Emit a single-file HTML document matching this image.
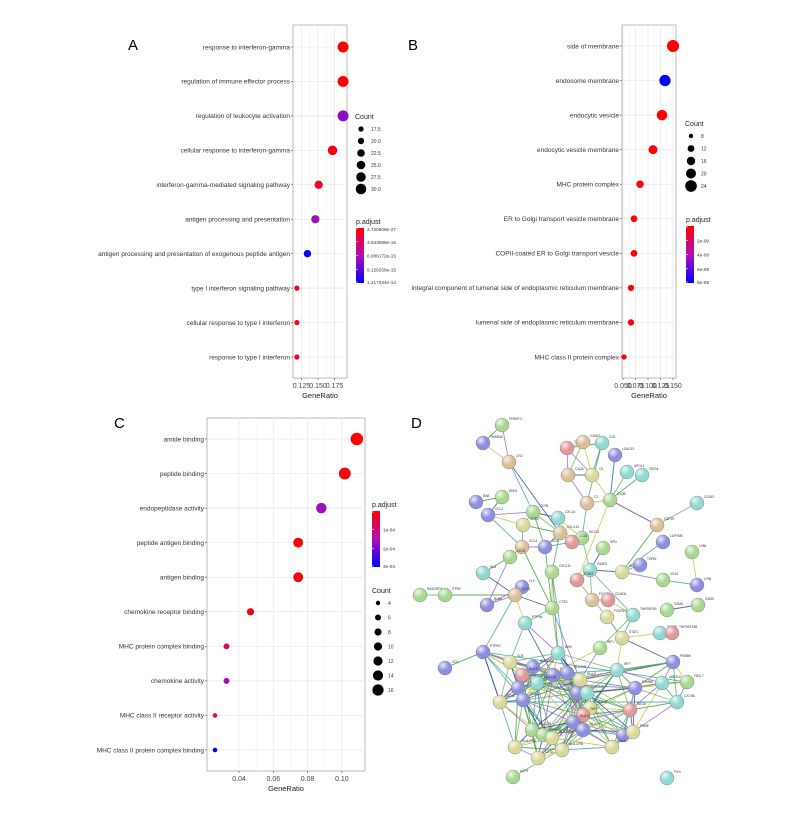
<!DOCTYPE html>
<html><head><meta charset="utf-8"><style>
body{margin:0;background:#fff;}
svg{display:block;font-family:"Liberation Sans",sans-serif;}
</style></head><body>
<svg id="fig" width="802" height="817" viewBox="0 0 802 817">
<defs>
<linearGradient id="gA" x1="0" y1="0" x2="0" y2="1"><stop offset="0" stop-color="#ff0000"/><stop offset="0.5" stop-color="#b010b8"/><stop offset="1" stop-color="#0000ff"/></linearGradient>
<radialGradient id="nodeShine" cx="0.35" cy="0.3" r="0.8"><stop offset="0" stop-color="#fff" stop-opacity="0.8"/><stop offset="0.5" stop-color="#fff" stop-opacity="0"/></radialGradient>
</defs>
<text x="128" y="50" font-size="15">A</text>
<text x="408" y="50" font-size="15">B</text>
<text x="114" y="428" font-size="15">C</text>
<text x="411" y="428" font-size="15">D</text>
<g id="pa"></g>
<g id="pb"></g>
<g id="pc"></g>
<g id="pd"></g>
</svg>
<script>
// ---- Panel A data ----
const aTerms=["response to interferon-gamma","regulation of immune effector process","regulation of leukocyte activation","cellular response to interferon-gamma","interferon-gamma-mediated signaling pathway","antigen processing and presentation","antigen processing and presentation of exogenous peptide antigen","type I interferon signaling pathway","cellular response to type I interferon","response to type I interferon"];
const aRatio=[0.188,0.188,0.188,0.172,0.151,0.146,0.134,0.118,0.118,0.118];
const aCount=[30,30,30,27,24,24,22,17,17,17];
const aPadj=[0.0,0.0,0.6,0.05,0.12,0.55,1.0,0.08,0.08,0.08]; // fraction of colorbar range
const aTicks=[0.125,0.150,0.175];
const aTickLabels=["0.125","0.150","0.175"];
const aCountLegend=["17.5","20.0","22.5","25.0","27.5","30.0"];
const aColorLegend=["2.720608e-27","3.043086e-15","6.086172e-15","9.129258e-15","1.217234e-14"];
// ---- Panel B data ----
const bTerms=["side of membrane","endosome membrane","endocytic vesicle","endocytic vesicle membrane","MHC protein complex","ER to Golgi transport vesicle membrane","COPII-coated ER to Golgi transport vesicle","integral component of lumenal side of endoplasmic reticulum membrane","lumenal side of endoplasmic reticulum membrane","MHC class II protein complex"];
const bRatio=[0.150,0.134,0.128,0.110,0.084,0.072,0.072,0.066,0.066,0.052];
const bCount=[24,22,20,16,12,10,10,9,9,6];
const bPadj=[0.0,1.0,0.02,0.02,0.02,0.02,0.02,0.02,0.02,0.02];
const bTicks=[0.050,0.075,0.100,0.125,0.150];
const bTickLabels=["0.050","0.075","0.100","0.125","0.150"];
const bCountLegend=["8","12","16","20","24"];
const bColorLegend=["","2e-09","4e-09","6e-09","8e-09"];
// ---- Panel C data ----
const cTerms=["amide binding","peptide binding","endopeptidase activity","peptide antigen binding","antigen binding","chemokine receptor binding","MHC protein complex binding","chemokine activity","MHC class II receptor activity","MHC class II protein complex binding"];
const cRatio=[0.1087,0.1017,0.088,0.0745,0.0745,0.0467,0.0327,0.0327,0.026,0.026];
const cCount=[16,15,13,12,12,8,6,6,4,4];
const cPadj=[0.0,0.02,0.55,0.02,0.02,0.05,0.25,0.55,0.12,1.0];
const cTicks=[0.04,0.06,0.08,0.10];
const cTickLabels=["0.04","0.06","0.08","0.10"];
const cCountLegend=["4","6","8","10","12","14","16"];
const cColorLegend=["","1e-04","2e-04","3e-04"];

const NS="http://www.w3.org/2000/svg";
function mk(parent,tag,attrs,txt){const e=document.createElementNS(NS,tag);for(const k in attrs)e.setAttribute(k,attrs[k]);if(txt!==undefined)e.textContent=txt;parent.appendChild(e);return e;}
function col(f){ // red -> purple -> blue
  let r,g,b;
  if(f<0.5){const t=f/0.5;r=255-t*(255-176);g=t*16;b=t*184;}else{const t=(f-0.5)/0.5;r=176-t*176;g=16-t*16;b=184+t*(255-184);}
  return `rgb(${Math.round(r)},${Math.round(g)},${Math.round(b)})`;
}
function dotplot(g,cfg){
  const {x0,x1,y0,y1,rowTop,rowBot,terms,ratio,count,padj,ticks,tickLabels,xAt,sx,rOf,fs}=cfg;
  const xs=v=>xAt+(v-cfg.vAt)*sx;
  const ys=i=>rowTop+i*(rowBot-rowTop)/(terms.length-1);
  const bg=mk(g,'rect',{x:x0,y:y0,width:x1-x0,height:y1-y0,fill:'#fff',stroke:'#aaa','stroke-width':0.8});
  
  for(let i=0;i<ticks.length-1;i++){const m=(ticks[i]+ticks[i+1])/2;mk(g,'line',{x1:xs(m),x2:xs(m),y1:y0,y2:y1,stroke:'#f2f2f2','stroke-width':0.6});}
  ticks.forEach((t,i)=>{
    const l=mk(g,'line',{x1:xs(t),x2:xs(t),y1:y0,y2:y1,stroke:'#e6e6e6','stroke-width':0.7});
    
    mk(g,'line',{x1:xs(t),x2:xs(t),y1:y1,y2:y1+2,stroke:'#444','stroke-width':0.6});
    const tl=mk(g,'text',{x:xs(t),y:y1+10,'font-size':fs+0.5,'text-anchor':'middle',fill:'#444'},tickLabels[i]);
    
  });
  const xt=mk(g,'text',{x:(x0+x1)/2,y:y1+20,'font-size':fs+1,'text-anchor':'middle',fill:'#222'},'GeneRatio');
  
  terms.forEach((t,i)=>{
    const y=ys(i);
    mk(g,'line',{x1:x0,x2:x1,y1:y,y2:y,stroke:'#e6e6e6','stroke-width':0.7});
    mk(g,'line',{x1:x0-2,x2:x0,y1:y,y2:y,stroke:'#444','stroke-width':0.6});
    const lb=mk(g,'text',{x:x0-3,y:y+fs*0.35,'font-size':fs,'text-anchor':'end',fill:'#333'},t);
    
  });
  terms.forEach((t,i)=>{
    const c=mk(g,'circle',{cx:xs(ratio[i]),cy:ys(i),r:rOf(count[i]),fill:col(padj[i])});
    
  });
}
function countLegend(g,x,y,labels,radii,gap,fs){
  const t=mk(g,'text',{x:x,y:y,'font-size':fs+1,fill:'#222'},'Count');
  
  labels.forEach((l,i)=>{
    const cy=y+10+i*gap;
    const c=mk(g,'circle',{cx:x+6,cy:cy,r:radii[i],fill:'#000'});
    
    const tt=mk(g,'text',{x:x+16,y:cy+2,'font-size':fs-1,fill:'#333'},l);
    
  });
}
function colorLegend(g,x,y,h,labels,fs){
  const t=mk(g,'text',{x:x,y:y,'font-size':fs+1,fill:'#222'},'p.adjust');
  
  const r=mk(g,'rect',{x:x,y:y+4,width:8,height:h,fill:'url(#gA)'});
  
  labels.forEach((l,i)=>{
    const yy=y+4+i*h/(labels.length-1)+(i==0?1:i==labels.length-1?-1:0);
    mk(g,'line',{x1:x,x2:x+2,y1:yy,y2:yy,stroke:'#fff','stroke-width':0.6});
    if(l){const tt=mk(g,'text',{x:x+11,y:yy+2,'font-size':fs-1.3,fill:'#333'},l);
    }
  });
}
const A=document.getElementById('pa'),B=document.getElementById('pb'),C=document.getElementById('pc');
dotplot(A,{x0:293,x1:347,y0:25,y1:378,rowTop:47,rowBot:357,terms:aTerms,ratio:aRatio,count:aCount,padj:aPadj,ticks:aTicks,tickLabels:aTickLabels,xAt:301.5,vAt:0.125,sx:660,rOf:c=>2.6+(c-17)*0.22,fs:6.5});
countLegend(A,355,119,aCountLegend,[2.6,3.2,3.8,4.3,4.8,5.3],12,6);
colorLegend(A,356,224,55,aColorLegend,6);
dotplot(B,{x0:622,x1:676,y0:25,y1:378,rowTop:46,rowBot:357,terms:bTerms,ratio:bRatio,count:bCount,padj:bPadj,ticks:bTicks,tickLabels:bTickLabels,xAt:623,vAt:0.05,sx:500,rOf:c=>2.6+(c-6)*0.19,fs:6.5});
countLegend(B,685,126,bCountLegend,[2.2,3.4,4.2,5,5.8],12.5,6);
colorLegend(B,686,222,57,bColorLegend,6);
dotplot(C,{x0:207,x1:365,y0:418,y1:771,rowTop:439,rowBot:750,terms:cTerms,ratio:cRatio,count:cCount,padj:cPadj,ticks:cTicks,tickLabels:cTickLabels,xAt:239,vAt:0.04,sx:1715,rOf:c=>2.3+(c-4)*0.33,fs:6.5});
colorLegend(C,372,507,56,cColorLegend,6);
countLegend(C,372,593,cCountLegend,[2.2,3,3.6,4.1,4.6,5.1,5.6],14.5,6);

// ---- Panel D network (hand-placed) ----
const nodes=[
["FERMT3",502,425,"g"],["TMSB4X",483,443,"b"],["CFD",509,462,"t"],["C1QC",567,448,"p"],["C3AR1",583,442,"t"],["C1S",602,443,"c"],
["LGALS3",615,455,"b"],["APOL1",627,472,"c"],["VSIG4",642,475,"c"],["C1QA",568,475,"t"],["C3",592,475,"y"],["C2",587,503,"t"],
["C1QB",610,500,"g"],["CD163",697,503,"c"],["RAB",476,502,"b"],["EDN1",502,497,"g"],["CCL2",488,515,"b"],["CCR1",533,512,"g"],
["CXCL9",558,518,"c"],["CCR5",523,525,"y"],["CSF1R",657,525,"t"],["CXCL10",560,533,"t"],["HCLS1",582,538,"g"],["CCL5",572,542,"p"],
["CCL4",522,547,"t"],["CD4",545,547,"b"],["LAPTM5",663,542,"b"],["SPN",603,548,"g"],["CCL8",510,557,"g"],["CXCL11",552,572,"g"],
["C5AR1",590,570,"c"],["CD86",622,572,"y"],["TGFBI",640,565,"b"],["LY86",692,552,"g"],["CD14",663,580,"g"],["LY96",697,585,"b"],
["SLA",483,573,"c"],["ITGB2",577,580,"p"],["LYZ",522,587,"b"],["ITPR2",445,595,"g"],["RASGRP1",420,595,"g"],["BLNK",487,605,"b"],
["CD74",515,595,"t"],["CTSS",552,608,"g"],["FCGR2",592,600,"t"],["CD163L",608,600,"p"],["TNFRSF1B",633,615,"c"],["GZMA",667,610,"g"],
["GZMK",698,605,"g"],["FCER1G",607,617,"y"],["PTPN6",525,623,"c"],["STAT1",622,638,"y"],["TNFSF",660,633,"c"],["TNFRSF13B",672,633,"p"],
["IRF1",600,648,"g"],["B2M",558,653,"c"],["PTPRC",483,652,"b"],["CD2",445,668,"b"],["PSMB9",673,662,"b"],["CD8",510,662,"y"],
["HLA-DOA",533,667,"b"],["HLA-E",522,675,"p"],["GBP1",553,675,"b"],["HLA-DM",567,673,"b"],["HLA-F",580,680,"y"],["IRF7",617,670,"c"],
["HLA-DQ",537,683,"c"],["CD3",518,688,"b"],["PSMB8",635,688,"b"],["UBE2L6",662,683,"c"],["FBXL7",687,682,"g"],["CD28",523,700,"b"],
["CD3E",500,702,"y"],["HLA-A",577,693,"b"],["HLA-B",587,693,"c"],["CXCR6",677,702,"c"],["HLA-C",590,708,"y"],["ISG15",630,710,"p"],
["TAP1",583,715,"p"],["HLA-G",573,722,"b"],["HLA-H",583,730,"b"],["HLA-DR",532,730,"g"],["HLA-DP",543,735,"g"],["HLA-DQA",552,738,"y"],
["TAP2",623,735,"b"],["PSME",633,732,"y"],["HLA-DRA",515,747,"y"],["HLA-DPB",562,750,"y"],["CIITA",538,758,"y"],["OAS",612,747,"y"],
["ACP5",513,777,"g"],["PXN",667,778,"c"]
];
const nodeCols={g:"#a8d890",b:"#8e8ee0",t:"#d8bf98",p:"#e09898",c:"#90d8d0",y:"#d8d898"};
const longEdges=[[0,1],[0,2],[1,2],[2,17],[2,21],[3,4],[3,5],[3,9],[4,10],[5,11],[6,12],[7,12],[8,12],[9,11],[10,12],[11,22],[12,20],[13,20],[14,15],[16,17],[16,19],[16,24],
[17,18],[17,19],[17,25],[18,21],[18,22],[19,24],[21,23],[22,30],[20,31],[20,12],[12,37],[26,31],[27,30],[28,24],[28,36],[28,41],[29,43],[29,21],[30,31],[30,37],[31,32],[31,34],[33,35],[34,35],[36,42],
[39,40],[39,42],[41,42],[42,50],[42,56],[43,42],[43,50],[43,25],[44,45],[45,46],[46,51],[47,48],[49,37],[49,51],[50,55],[51,52],[52,53],[51,58],[54,46],[56,57],[56,59],[56,61],[56,70],
[58,64],[58,65],[58,67],[66,68],[69,74],[75,72],[89,85],[90,77],[55,64],[43,64],[54,72],[29,63],[25,21],[44,30],[24,43],[38,41],[38,42],[46,30],[15,16],
[17,21],[19,21],[24,25],[18,23],[23,25],[9,10],[4,9],[5,10],[3,10],[11,12],[50,59],[50,62],[43,55],[29,55],[54,64],[51,65],[56,71],[56,72]];
const ecols=["#3a9a3a","#9a60c8","#c0c040","#40a0a0","#2a4a8a","#60b060"];
const D=document.getElementById('pd');
const edges=longEdges.slice();
for(let i=55;i<nodes.length-2;i++)for(let j=i+1;j<nodes.length-2;j++){
  const dx=nodes[i][1]-nodes[j][1],dy=nodes[i][2]-nodes[j][2];
  if(dx*dx+dy*dy<62*62)edges.push([i,j]);
}
edges.forEach((e,k)=>{
  const a=nodes[e[0]],b=nodes[e[1]];
  const l=mk(D,'line',{x1:a[1],y1:a[2],x2:b[1],y2:b[2],stroke:ecols[k%ecols.length],'stroke-width':0.9,'stroke-opacity':0.8});
  
});
nodes.forEach(n=>{
  const c=mk(D,'circle',{cx:n[1],cy:n[2],r:7,fill:nodeCols[n[3]],stroke:'#777','stroke-width':0.4});
  
  mk(D,'circle',{cx:n[1],cy:n[2],r:7,fill:'url(#nodeShine)'});
  const t=mk(D,'text',{x:n[1]+7,y:n[2]-5,'font-size':3.2,fill:'#333'},n[0]);
  
});
</script>
</body></html>
